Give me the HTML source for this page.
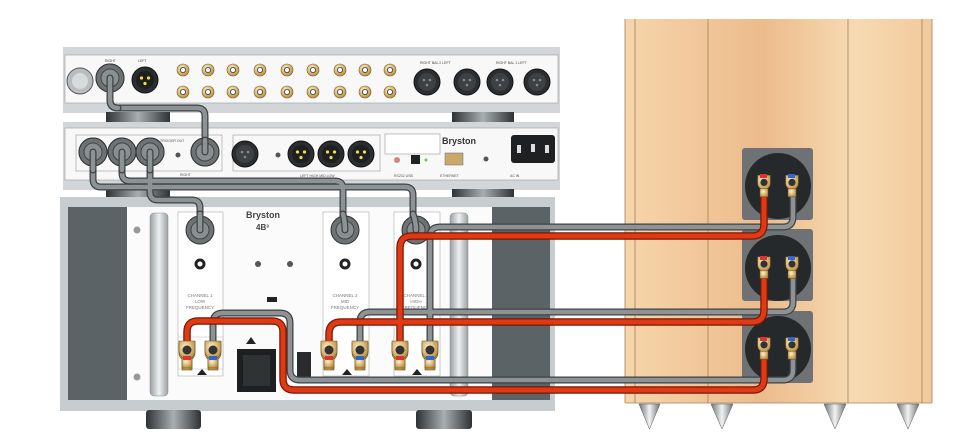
<!DOCTYPE html>
<html><head><meta charset="utf-8"><style>
html,body{margin:0;padding:0;background:#fff}
svg{display:block}
text{font-family:"Liberation Sans",sans-serif}
</style></head><body>
<svg width="978" height="443" viewBox="0 0 978 443" xmlns="http://www.w3.org/2000/svg">
<defs>
<linearGradient id="wood" x1="0" x2="1" y1="0" y2="0">
<stop offset="0" stop-color="#f6d5aa"/><stop offset="0.45" stop-color="#ecbb8c"/><stop offset="0.75" stop-color="#f7dab2"/><stop offset="1" stop-color="#f2c99b"/>
</linearGradient>
<linearGradient id="foot" x1="0" x2="1" y1="0" y2="0">
<stop offset="0" stop-color="#2e3234"/><stop offset="0.5" stop-color="#a9aeb0"/><stop offset="1" stop-color="#2e3234"/>
</linearGradient>
<linearGradient id="spike" x1="0" x2="1">
<stop offset="0" stop-color="#6f7476"/><stop offset="0.5" stop-color="#f0f2f3"/><stop offset="1" stop-color="#6f7476"/>
</linearGradient>
<linearGradient id="handle" x1="0" x2="1">
<stop offset="0" stop-color="#9aa0a2"/><stop offset="0.5" stop-color="#eef0f1"/><stop offset="1" stop-color="#9aa0a2"/>
</linearGradient>
<radialGradient id="gold" cx="0.4" cy="0.35" r="0.7">
<stop offset="0" stop-color="#fff1c8"/><stop offset="1" stop-color="#b88a3a"/>
</radialGradient>
<g id="post"><path d="M-8,-9 h16 v10 a8,8 0 0 1 -16,0z" fill="url(#gold)" stroke="#6d5220" stroke-width="0.6"/><rect x="-5" y="8" width="10" height="10" fill="url(#gold)" stroke="#6d5220" stroke-width="0.6"/><circle r="4.5" cy="0" fill="#333"/></g>
<g id="rca"><circle r="6" fill="url(#gold)" stroke="#7a5a20" stroke-width="0.6"/><circle r="2.6" fill="#fff" stroke="#333" stroke-width="0.8"/></g>
<g id="xlrb"><circle r="13" fill="#2b2e30" stroke="#111"/><circle r="9" fill="#3d4143"/><circle cx="-3" cy="-2" r="1.3" fill="#888"/><circle cx="3" cy="-2" r="1.3" fill="#888"/><circle cx="0" cy="3" r="1.3" fill="#888"/></g>
<g id="xlry"><circle r="13" fill="#2b2e30" stroke="#111"/><circle r="9" fill="#1d1f20"/><circle cx="-3.5" cy="-2" r="1.6" fill="#f0e040"/><circle cx="3.5" cy="-2" r="1.6" fill="#f0e040"/><circle cx="0" cy="3.5" r="1.6" fill="#f0e040"/></g>
<g id="gconn"><circle r="14" fill="#6d7274" stroke="#333"/><circle r="9" fill="#8a8f91" stroke="#444"/></g>
</defs>

<!-- ===== Speaker ===== -->
<rect x="625" y="19" width="307" height="384" fill="url(#wood)"/>
<g stroke="#a0805c" stroke-width="0.8">
<line x1="625" y1="19" x2="625" y2="403"/><line x1="635" y1="19" x2="635" y2="403"/>
<line x1="708" y1="19" x2="708" y2="403"/><line x1="848" y1="19" x2="848" y2="403"/>
<line x1="922" y1="19" x2="922" y2="403"/><line x1="932" y1="19" x2="932" y2="403"/>
<line x1="625" y1="403" x2="932" y2="403"/>
</g>
<g fill="url(#spike)" stroke="#555" stroke-width="0.5">
<path d="M639,404 h21 l-10.5,25z"/><path d="M711,404 h22 l-11,25z"/><path d="M824,404 h22 l-11,25z"/><path d="M897,404 h22 l-11,25z"/>
</g>
<g>
<rect x="742" y="148" width="71" height="72" rx="3" fill="#6e7275"/>
<rect x="742" y="229" width="71" height="72" rx="3" fill="#6e7275"/>
<rect x="742" y="311" width="71" height="72" rx="3" fill="#6e7275"/>
<circle cx="778" cy="186" r="33" fill="#26292b"/>
<circle cx="778" cy="268" r="33" fill="#26292b"/>
<circle cx="778" cy="349" r="33" fill="#26292b"/>
</g>

<!-- ===== Top preamp ===== -->
<rect x="63" y="47" width="497" height="66" fill="#d3d6d8"/>
<rect x="65" y="55" width="493" height="48" fill="#f8f8f8" stroke="#999" stroke-width="0.6"/>
<rect x="106" y="112" width="64" height="15" fill="url(#foot)"/>
<rect x="452" y="112" width="62" height="15" fill="url(#foot)"/>
<circle cx="80" cy="81" r="13" fill="#b9bdbf" stroke="#555"/><circle cx="80" cy="81" r="8" fill="#d8dbdc"/>
<use href="#gconn" x="110" y="78"/>
<use href="#xlry" x="145" y="80"/>
<g><use href="#rca" x="183" y="70"/><use href="#rca" x="208" y="70"/><use href="#rca" x="233" y="70"/><use href="#rca" x="260" y="70"/><use href="#rca" x="287" y="70"/><use href="#rca" x="313" y="70"/><use href="#rca" x="340" y="70"/><use href="#rca" x="365" y="70"/><use href="#rca" x="390" y="70"/>
<use href="#rca" x="183" y="92"/><use href="#rca" x="208" y="92"/><use href="#rca" x="233" y="92"/><use href="#rca" x="260" y="92"/><use href="#rca" x="287" y="92"/><use href="#rca" x="313" y="92"/><use href="#rca" x="340" y="92"/><use href="#rca" x="365" y="92"/><use href="#rca" x="390" y="92"/></g>
<use href="#xlrb" x="427" y="82"/><use href="#xlrb" x="467" y="82"/><use href="#xlrb" x="500" y="82"/><use href="#xlrb" x="537" y="82"/>
<g font-size="3.5" fill="#444"><text x="105" y="62">RIGHT</text><text x="138" y="62">LEFT</text><text x="420" y="64">RIGHT BAL 2 LEFT</text><text x="496" y="64">RIGHT BAL 1 LEFT</text></g>

<!-- ===== Crossover ===== -->
<rect x="63" y="122" width="497" height="68" fill="#d3d6d8"/>
<rect x="65" y="128" width="493" height="52" fill="#f8f8f8" stroke="#999" stroke-width="0.6"/>
<rect x="106" y="189" width="64" height="12" fill="url(#foot)"/>
<rect x="452" y="189" width="62" height="12" fill="url(#foot)"/>
<rect x="76" y="135" width="146" height="36" fill="none" stroke="#999" stroke-width="0.6"/>
<rect x="233" y="135" width="147" height="36" fill="none" stroke="#999" stroke-width="0.6"/>
<rect x="385" y="134" width="55" height="20" fill="#fff" stroke="#999" stroke-width="0.6"/>
<use href="#gconn" x="93" y="152"/><use href="#gconn" x="122" y="152"/><use href="#gconn" x="150" y="152"/><use href="#gconn" x="205" y="152"/>
<circle cx="178" cy="155" r="2.5" fill="#555"/>
<use href="#xlrb" x="245" y="154"/><circle cx="278" cy="155" r="2.5" fill="#555"/>
<use href="#xlry" x="301" y="154"/><use href="#xlry" x="331" y="154"/><use href="#xlry" x="361" y="154"/>
<circle cx="397" cy="160" r="3" fill="#c88"/><rect x="411" y="155" width="9" height="9" fill="#222"/><circle cx="426" cy="160" r="1.5" fill="#6c4"/>
<rect x="445" y="153" width="18" height="12" fill="#c9a86a" stroke="#666" stroke-width="0.5"/>
<text x="442" y="144" font-size="9" font-weight="bold" fill="#333" font-family="Liberation Serif">Bryston</text>
<circle cx="486" cy="159" r="2.5" fill="#555"/>
<rect x="511" y="135" width="44" height="28" rx="3" fill="#1e2021"/>
<rect x="517" y="145" width="4" height="8" fill="#ddd"/><rect x="531" y="144" width="4" height="8" fill="#ddd"/><rect x="545" y="145" width="4" height="8" fill="#ddd"/>
<g font-size="3.5" fill="#555"><text x="160" y="142">TRIGGER OUT</text><text x="180" y="176">RIGHT</text><text x="300" y="177">LEFT   HIGH   MID   LOW</text><text x="394" y="177">RS232  USB</text><text x="440" y="177">ETHERNET</text><text x="510" y="177">AC IN</text></g>

<!-- ===== Amplifier ===== -->
<rect x="60" y="197" width="495" height="214" fill="#c7cccf"/>
<rect x="68" y="207" width="59" height="193" fill="#5b6366"/>
<rect x="492" y="207" width="58" height="193" fill="#5b6366"/>
<rect x="127" y="207" width="365" height="193" fill="#fbfbfb"/>
<rect x="146" y="410" width="55" height="19" rx="3" fill="url(#foot)"/>
<rect x="416" y="410" width="56" height="19" rx="3" fill="url(#foot)"/>
<rect x="150" y="213" width="18" height="183" rx="4" fill="url(#handle)" stroke="#888" stroke-width="0.5"/>
<rect x="450" y="213" width="18" height="183" rx="4" fill="url(#handle)" stroke="#888" stroke-width="0.5"/>
<circle cx="137" cy="230" r="3.5" fill="#999"/><circle cx="137" cy="377" r="3.5" fill="#999"/>
<rect x="178" y="212" width="45" height="164" fill="#fff" stroke="#aaa" stroke-width="0.6"/>
<rect x="323" y="212" width="46" height="164" fill="#fff" stroke="#aaa" stroke-width="0.6"/>
<rect x="394" y="212" width="46" height="164" fill="#fff" stroke="#aaa" stroke-width="0.6"/>
<g fill="#222"><circle cx="200" cy="264" r="5.5"/><circle cx="345" cy="264" r="5.5"/><circle cx="416" cy="264" r="5.5"/></g>
<g fill="#fff"><circle cx="200" cy="264" r="2.5"/><circle cx="345" cy="264" r="2.5"/><circle cx="416" cy="264" r="2.5"/></g>
<text x="246" y="218" font-size="9" font-weight="bold" fill="#444" font-family="Liberation Serif">Bryston</text>
<text x="256" y="230" font-size="8" font-weight="bold" fill="#444">4B³</text>
<circle cx="258" cy="264" r="3" fill="#555"/><circle cx="290" cy="264" r="3" fill="#555"/>
<rect x="267" y="297" width="10" height="5" fill="#222"/>
<g font-size="4.5" fill="#777" text-anchor="middle"><text x="200" y="297">CHANNEL 1</text><text x="200" y="303">LOW</text><text x="200" y="309">FREQUENCY</text>
<text x="345" y="297">CHANNEL 2</text><text x="345" y="303">MID</text><text x="345" y="309">FREQUENCY</text>
<text x="416" y="297">CHANNEL 3</text><text x="416" y="303">HIGH</text><text x="416" y="309">FREQUENCY</text></g>
<path d="M246,344 l5,-7 l5,7z" fill="#222"/>
<rect x="237" y="349" width="39" height="43" fill="#1d1f20"/><rect x="243" y="355" width="27" height="31" fill="#2f3334"/>
<rect x="297" y="352" width="14" height="28" fill="#2a2c2d"/>
<g fill="#222"><path d="M197,375 l5,-6 l5,6z"/><path d="M342,375 l5,-6 l5,6z"/><path d="M412,375 l5,-6 l5,6z"/></g>
<rect x="178" y="337" width="45" height="32" fill="none" stroke="#bbb" stroke-width="0.5"/>
<g><use href="#post" x="187" y="352"/><use href="#post" x="213" y="352"/><use href="#post" x="329" y="352"/><use href="#post" x="360" y="352"/><use href="#post" x="400" y="352"/><use href="#post" x="430" y="352"/></g>
<g><rect x="183" y="357" width="8" height="4" fill="#d33"/><rect x="209" y="357" width="8" height="4" fill="#36c"/><rect x="325" y="357" width="8" height="4" fill="#d33"/><rect x="356" y="357" width="8" height="4" fill="#36c"/><rect x="396" y="357" width="8" height="4" fill="#d33"/><rect x="426" y="357" width="8" height="4" fill="#36c"/></g>

<!-- ===== Interconnect cables (gray) ===== -->
<g fill="none" stroke-linecap="round" stroke-linejoin="round">
<g stroke="#3e4244" stroke-width="7">
<path d="M110,80 V100 Q110,108 118,108 H197 Q205,108 205,116 V152"/>
<path d="M93,152 V179 Q93,187 101,187 H405 Q413,187 413,195 V228"/>
<path d="M122,152 V173 Q122,181 130,181 H335 Q343,181 343,189 V226"/>
<path d="M150,152 V192 Q150,200 158,200 H192 Q200,200 200,208 V228"/>
</g>
<g stroke="#8d9294" stroke-width="4.5">
<path d="M110,80 V100 Q110,108 118,108 H197 Q205,108 205,116 V152"/>
<path d="M93,152 V179 Q93,187 101,187 H405 Q413,187 413,195 V228"/>
<path d="M122,152 V173 Q122,181 130,181 H335 Q343,181 343,189 V226"/>
<path d="M150,152 V192 Q150,200 158,200 H192 Q200,200 200,208 V228"/>
</g>
</g>
<g><use href="#gconn" x="110" y="78"/><use href="#gconn" x="205" y="152"/><use href="#gconn" x="93" y="152"/><use href="#gconn" x="122" y="152"/><use href="#gconn" x="150" y="152"/>
<use href="#gconn" x="200" y="230"/><use href="#gconn" x="345" y="230"/><use href="#gconn" x="416" y="230"/></g>
<g fill="none" stroke-linecap="round" stroke-linejoin="round">
<g stroke="#3e4244" stroke-width="7">
<path d="M110,78 V100 Q110,108 118,108"/><path d="M205,140 V152"/>
<path d="M93,152 V170"/><path d="M122,152 V170"/><path d="M150,152 V170"/>
<path d="M200,214 V230"/><path d="M343,214 Q345,222 345,230"/><path d="M413,214 Q416,222 416,230"/>
</g>
<g stroke="#8d9294" stroke-width="4.5">
<path d="M110,78 V100 Q110,108 118,108"/><path d="M205,140 V152"/>
<path d="M93,152 V170"/><path d="M122,152 V170"/><path d="M150,152 V170"/>
<path d="M200,214 V230"/><path d="M343,214 Q345,222 345,230"/><path d="M413,214 Q416,222 416,230"/>
</g>
</g>

<!-- ===== Speaker cables ===== -->
<g fill="none" stroke-linejoin="round" stroke-linecap="round">
<!-- gray (negative) -->
<g stroke="#3e4244" stroke-width="7">
<path d="M430,352 V237 Q430,227 440,227 H783 Q793,227 793,217 V186"/>
<path d="M360,352 V322 Q360,312 370,312 H783 Q793,312 793,302 V268"/>
<path d="M213,352 V323 Q213,313 223,313 H280 Q290,313 290,323 V370 Q290,380 300,380 H783 Q793,380 793,370 V349"/>
</g>
<g stroke="#8d9294" stroke-width="4.5">
<path d="M430,352 V237 Q430,227 440,227 H783 Q793,227 793,217 V186"/>
<path d="M360,352 V322 Q360,312 370,312 H783 Q793,312 793,302 V268"/>
<path d="M213,352 V323 Q213,313 223,313 H280 Q290,313 290,323 V370 Q290,380 300,380 H783 Q793,380 793,370 V349"/>
</g>
<!-- red (positive) -->
<g stroke="#7a1808" stroke-width="7.5">
<path d="M400,352 V248 Q400,236 412,236 H752 Q764,236 764,224 V186"/>
<path d="M329,352 V334 Q329,322 341,322 H752 Q764,322 764,310 V268"/>
<path d="M187,352 V332 Q187,321 198,321 H272 Q283,321 283,332 V379 Q283,390 294,390 H753 Q764,390 764,379 V349"/>
</g>
<g stroke="#e03a14" stroke-width="5">
<path d="M400,352 V248 Q400,236 412,236 H752 Q764,236 764,224 V186"/>
<path d="M329,352 V334 Q329,322 341,322 H752 Q764,322 764,310 V268"/>
<path d="M187,352 V332 Q187,321 198,321 H272 Q283,321 283,332 V379 Q283,390 294,390 H753 Q764,390 764,379 V349"/>
</g>
</g>
<!-- posts on top of cables -->
<g><use href="#post" x="187" y="350"/><use href="#post" x="213" y="350"/><use href="#post" x="329" y="350"/><use href="#post" x="360" y="350"/><use href="#post" x="400" y="350"/><use href="#post" x="430" y="350"/></g>
<g><rect x="183" y="356" width="8" height="4" fill="#d33"/><rect x="209" y="356" width="8" height="4" fill="#36c"/><rect x="325" y="356" width="8" height="4" fill="#d33"/><rect x="356" y="356" width="8" height="4" fill="#36c"/><rect x="396" y="356" width="8" height="4" fill="#d33"/><rect x="426" y="356" width="8" height="4" fill="#36c"/></g>
<g transform="scale(0.8)">
<use href="#post" x="955" y="228"/><use href="#post" x="990" y="228"/>
<use href="#post" x="955" y="330"/><use href="#post" x="990" y="330"/>
<use href="#post" x="955" y="431"/><use href="#post" x="990" y="431"/>
</g>
<g><rect x="760" y="174" width="7" height="4" fill="#d33"/><rect x="788" y="174" width="7" height="4" fill="#36c"/>
<rect x="760" y="256" width="7" height="4" fill="#d33"/><rect x="788" y="256" width="7" height="4" fill="#36c"/>
<rect x="760" y="337" width="7" height="4" fill="#d33"/><rect x="788" y="337" width="7" height="4" fill="#36c"/></g>
</svg>
</body></html>
